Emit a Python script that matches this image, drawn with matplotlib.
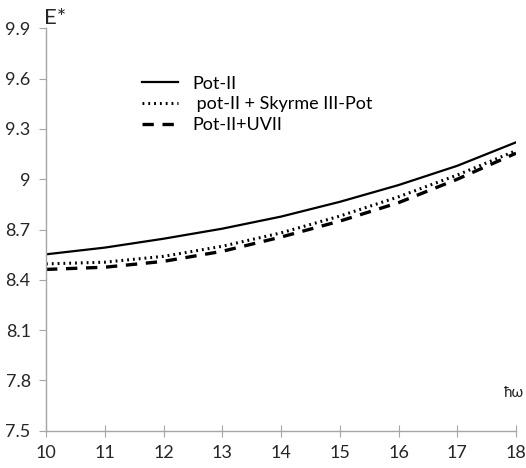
import numpy as np
import matplotlib.pyplot as plt

plt.rcParams['font.family'] = ['Lato', 'DejaVu Sans']

# hbar*omega values and E* for the three potentials
hw = [10, 11, 12, 13, 14, 15, 16, 17, 18]
pot2 = [8.552, 8.592, 8.645, 8.705, 8.777, 8.865, 8.965, 9.08, 9.22]
pot2_skyrme = [8.495, 8.505, 8.54, 8.60, 8.68, 8.78, 8.895, 9.025, 9.17]
pot2_uvii = [8.462, 8.475, 8.51, 8.57, 8.655, 8.75, 8.86, 9.0, 9.155]

labels = ["Pot-II", " pot-II + Skyrme III-Pot", "Pot-II+UVII"]
yticks = [7.5, 7.8, 8.1, 8.4, 8.7, 9, 9.3, 9.6, 9.9]
yticklabels = ["7.5", "7.8", "8.1", "8.4", "8.7", "9", "9.3", "9.6", "9.9"]

fig = plt.figure(figsize=(5.26, 4.68), dpi=100)
ax = fig.add_axes([0.0875, 0.0797, 0.8935, 0.8598])

ax.plot(hw, pot2, color='black', lw=1.6, label=labels[0])
ax.plot(hw, pot2_skyrme, color='black', lw=2.2, linestyle=(0, (0.6, 1.3)),
        label=labels[1])
ax.plot(hw, pot2_uvii, color='black', lw=2.4, linestyle=(0, (3.4, 2.6)),
        label=labels[2])

ax.set_xlim(10, 18)
ax.set_ylim(7.5, 9.9)
ax.set_xticks(hw)
ax.set_yticks(yticks)
ax.set_yticklabels(yticklabels)

for s in ['top', 'right']:
    ax.spines[s].set_visible(False)
for s in ['left', 'bottom']:
    ax.spines[s].set_color('#a6a6a6')
    ax.spines[s].set_linewidth(1.0)

ax.tick_params(axis='x', direction='inout', length=8, color='#a6a6a6',
               labelsize=13, labelcolor='#262626', pad=6)
ax.tick_params(axis='y', direction='out', length=5, color='#a6a6a6',
               labelsize=13, labelcolor='#262626', pad=6)

leg = ax.legend(loc='upper left', bbox_to_anchor=(0.204, 0.882), frameon=False,
                fontsize=13, handlelength=2.0, handletextpad=0.8,
                labelspacing=0.25, borderpad=0, borderaxespad=0)

fig.text(44 / 526, 1 - 18 / 468, "E*", fontsize=16, color='#262626',
         va='center', ha='left')
fig.text(503 / 526, 1 - 393 / 468, "ħω", fontsize=11, color='#262626',
         va='center', ha='left')

fig.savefig("out.png", dpi=100)
